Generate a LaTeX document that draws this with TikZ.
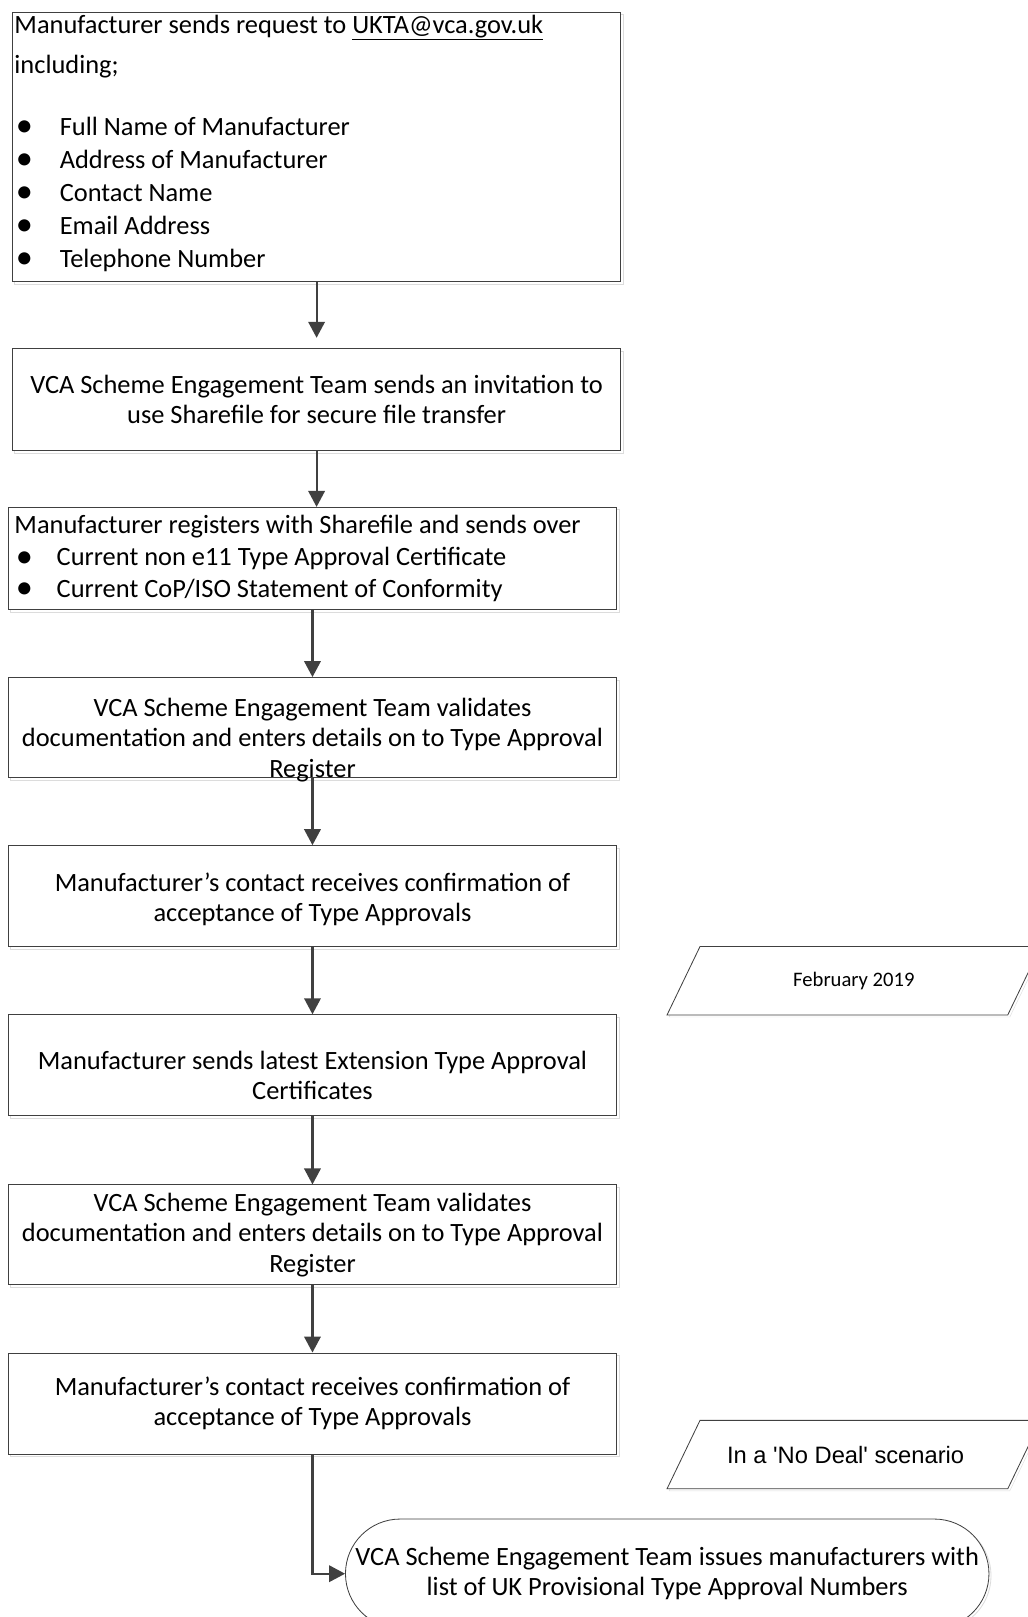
\documentclass[tikz,border=0pt]{standalone}
\usepackage{fontspec}
\setmainfont{Carlito}
\newfontfamily\arialfnt{Liberation Sans}
\usetikzlibrary{arrows.meta,shapes.misc,shadows}

\definecolor{edgegray}{HTML}{404040}
\definecolor{shadegray}{HTML}{DCDCDC}

% bullet line: width of the bullet column, then the text
\newcommand{\bul}[2][44pt]{\makebox[#1][l]{\hspace{1.5pt}\raisebox{-1.5pt}{\scalebox{1.3}{\textbullet}}}#2}

\tikzset{
  stepbox/.style={draw=edgegray, line width=0.9pt, fill=white, inner sep=0pt,
    minimum width=590pt, align=center, font=\fontsize{25.6}{29.5}\selectfont,
    copy shadow={shadow xshift=2.5pt, shadow yshift=-2.5pt, draw=shadegray, fill=white}},
  listbox/.style={stepbox, align=flush left},
  steptext/.style={align=flush center, text width=590pt, inner sep=0pt, font=\fontsize{25.6}{29.5}\selectfont},
  slanttext/.style={inner sep=0pt, minimum width=330pt, minimum height=66pt},
  slantline/.style={draw=edgegray, line width=0.8pt, fill=white,
    copy shadow={shadow xshift=2pt, shadow yshift=-2pt, draw=shadegray, fill=white}},
  endbox/.style={rounded rectangle, draw=edgegray, line width=0.8pt, fill=white, inner sep=0pt,
    minimum width=624pt, minimum height=106pt, align=center, font=\fontsize{25.6}{29.5}\selectfont,
    copy shadow={shadow xshift=2pt, shadow yshift=-2pt, draw=shadegray, fill=white}},
  flow/.style={draw=edgegray, line width=2pt, -{Triangle[width=16pt,length=15.5pt]}}
}

\begin{document}
\begin{tikzpicture}[x=1pt,y=-1pt]
\useasboundingbox (0,0) rectangle (996,1568);

% process steps
\node[stepbox, minimum height=261pt,
  label={[name=b1t, steptext, align=flush left, text width=586pt, yshift=3.5pt,
    font=\fontsize{25.6}{32}\selectfont]center:
   {Manufacturer sends request to \underline{UKTA@vca.gov.uk}\\[7pt]
    including;\\[28pt]
    \bul{Full Name of Manufacturer}\\
    \bul{Address of Manufacturer}\\
    \bul{Contact Name}\\
    \bul{Email Address}\\
    \bul{Telephone Number}}}] (b1) at (307,142.5) {};
\node[stepbox, minimum height=99pt] (b2) at (307,387.5)
  {VCA Scheme Engagement Team sends an invitation to\\ use Sharefile for secure file transfer};
\node[listbox, minimum height=99pt, inner xsep=6pt, text width=578pt,
  font=\fontsize{25.6}{31}\selectfont] (b3) at (303,541.5)
  {Manufacturer registers with Sharefile and sends over\\
   \bul[41pt]{Current non e11 Type Approval Certificate}\\
   \bul[41pt]{Current CoP/ISO Statement of Conformity}};
\node[stepbox, minimum height=97pt,
  label={[name=b4t, steptext, yshift=-12pt]center:
   {VCA Scheme Engagement Team validates\\ documentation and enters details on to Type Approval\\ Register}}]
  (b4) at (303,705.5) {};
\node[stepbox, minimum height=98pt,
  label={[name=b5t, steptext, yshift=-3pt]center:
   {Manufacturer’s contact receives confirmation of\\ acceptance of Type Approvals}}]
  (b5) at (303,869) {};
\node[stepbox, minimum height=98pt,
  label={[name=b6t, steptext, yshift=-10pt]center:
   {Manufacturer sends latest Extension Type Approval\\ Certificates}}]
  (b6) at (303,1033) {};
\node[stepbox, minimum height=97pt] (b7) at (303,1197.5)
  {VCA Scheme Engagement Team validates\\ documentation and enters details on to Type Approval\\ Register};
\node[stepbox, minimum height=98pt] (b8) at (303,1361)
  {Manufacturer’s contact receives confirmation of\\ acceptance of Type Approvals};

% side notes (slanted boxes)
\node[slanttext] (feb) at (828,951) {};
\draw[slantline] ([xshift=-16pt]feb.south west) -- ([xshift=16pt]feb.north west)
  -- ([xshift=16pt]feb.north east) -- ([xshift=-16pt]feb.south east) -- cycle;
\node[font=\fontsize{20}{24}\selectfont] (febt) at (feb) {February 2019};
\node[slanttext] (nodeal) at (828,1410.5) {};
\draw[slantline] ([xshift=-16pt]nodeal.south west) -- ([xshift=16pt]nodeal.north west)
  -- ([xshift=16pt]nodeal.north east) -- ([xshift=-16pt]nodeal.south east) -- cycle;
\node[font=\arialfnt\fontsize{23}{27}\selectfont] (nodealt) at ([xshift=-8pt]nodeal.center)
  {In a \textquotesingle No Deal\textquotesingle\ scenario};

% last step
\node[endbox] (issue) at (647,1526)
  {VCA Scheme Engagement Team issues manufacturers with\\ list of UK Provisional Type Approval Numbers};

% arrows
\draw[flow, shorten >=10pt] (b1.south) -- (b2.north);
\draw[flow] (b2.south) -- (b2.south |- b3.north);
\draw[flow] (b3.south) -- (b4.north);
\draw[flow] (b4.south) -- (b5.north);
\draw[flow] (b5.south) -- (b6.north);
\draw[flow] (b6.south) -- (b7.north);
\draw[flow] (b7.south) -- (b8.north);
\draw[flow] (b8.south) |- (issue.west);
\end{tikzpicture}
\end{document}
